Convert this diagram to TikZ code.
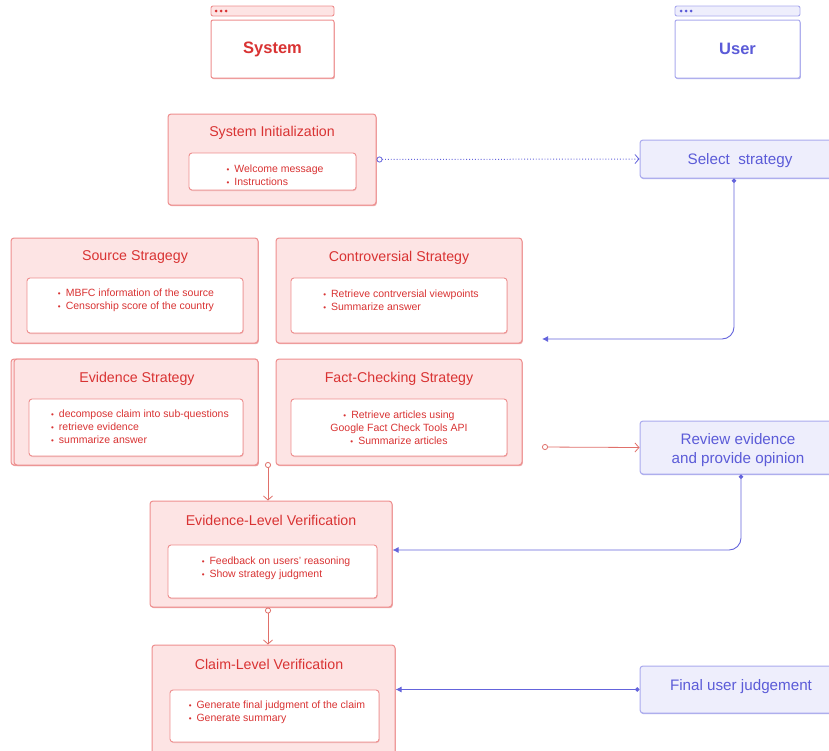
\documentclass[tikz,border=0pt]{standalone}
\usepackage{fontspec}
\setmainfont{Liberation Sans}
\usetikzlibrary{arrows.meta,shadows}
\definecolor{rtext}{HTML}{D93333}
\definecolor{rfill}{HTML}{FDE4E4}
\definecolor{rline}{HTML}{EE8E8E}
\definecolor{rshad}{HTML}{E89A9A}
\definecolor{btext}{HTML}{5B5BD8}
\definecolor{bfill}{HTML}{EEEEFC}
\definecolor{bline}{HTML}{AAAAEE}
\definecolor{bshad}{HTML}{9C9CE6}
\definecolor{bconn}{HTML}{6464DC}
\definecolor{rconn}{HTML}{E0706A}
\tikzset{
  outerbox/.style={draw=rline, fill=rfill, rounded corners=3pt, line width=1pt, inner sep=0pt,
     drop shadow={shadow xshift=0.8pt, shadow yshift=-1.2pt, fill=rshad, opacity=0.8}},
  innerbox/.style={draw=rline, fill=white, rounded corners=3pt, line width=0.9pt, inner sep=0pt,
     drop shadow={shadow xshift=0.6pt, shadow yshift=-1pt, fill=rshad, opacity=0.6}},
  userbox/.style={draw=bline, fill=bfill, rounded corners=3pt, line width=1pt, inner sep=0pt,
     drop shadow={shadow xshift=0.6pt, shadow yshift=-1.2pt, fill=bshad, opacity=0.8}},
  ttl/.style={text=rtext, font=\fontsize{14.2}{16}\selectfont, inner sep=0pt},
  items/.style={text=rtext, font=\fontsize{10.5}{13}\selectfont, align=left, inner sep=0pt},
  utext/.style={text=btext, font=\fontsize{15.2}{19}\selectfont, align=center, inner sep=0pt},
  rconnector/.style={draw=rconn, line width=0.8pt},
  bconnector/.style={draw=bconn, line width=0.9pt},
  ropen/.style={{Circle[open,length=6pt,width=6pt,line width=0.8pt]}-{Straight Barb[length=4pt,width=9pt,line width=0.8pt]}},
  bdot/.style={{Circle[length=4.5pt,width=4.5pt]}-{Latex[length=6pt,width=6pt]}},
}
\newcommand{\bul}{{\fontsize{8}{8}\selectfont •}\hspace{5pt}}
\begin{document}
\begin{tikzpicture}[x=1pt,y=-1pt]
\useasboundingbox (0,0) rectangle (829,750);
\fill[white] (0,0) rectangle (829,750);

% ---- header windows
\node[draw=rline, fill=rfill, rounded corners=2pt, line width=0.9pt, minimum width=123pt, minimum height=10pt, inner sep=0pt] (sysbar) at (272.5,11) {};
\foreach \dx in {0,5,10} \fill[rtext] (216+\dx,11) circle (1.5pt);
\node[draw=rline, fill=white, rounded corners=2pt, line width=1pt, minimum width=123pt, minimum height=58pt, inner sep=0pt,
   drop shadow={shadow xshift=0.8pt, shadow yshift=-1.2pt, fill=rshad, opacity=0.8},
   text=rtext, font=\fontsize{16.5}{18}\selectfont\bfseries] (sys) at (272.5,49) {System};

\node[draw=bline, fill=bfill, rounded corners=2pt, line width=0.9pt, minimum width=125pt, minimum height=10pt, inner sep=0pt] (usrbar) at (737.5,11) {};
\foreach \dx in {0,5,10} \fill[btext] (681+\dx,11) circle (1.5pt);
\node[draw=bline, fill=white, rounded corners=2pt, line width=1pt, minimum width=125pt, minimum height=58pt, inner sep=0pt,
   drop shadow={shadow xshift=0.8pt, shadow yshift=-1.2pt, fill=bshad, opacity=0.8},
   text=btext, font=\fontsize{16.5}{18}\selectfont\bfseries] (usr) at (737.5,49) {User};

% ---- System Initialization
\node[outerbox, minimum width=208pt, minimum height=91pt] (init) at (272,159.5) {};
\node[ttl] (initt) at (272,132.5) {System Initialization};
\node[innerbox, minimum width=167pt, minimum height=37pt] (initi) at (272.5,171.5) {};
\node[items] (initl) at (275,175) {\bul Welcome message\\\bul Instructions};

% ---- Source Stragegy
\node[outerbox, minimum width=247pt, minimum height=105pt] (src) at (134.5,290.5) {};
\node[ttl] (srct) at (135,257.5) {Source Stragegy};
\node[innerbox, minimum width=216pt, minimum height=55pt] (srci) at (135,305.5) {};
\node[items] (srcl) at (136,300) {\bul MBFC information of the source\\\bul Censorship score of the country};

% ---- Controversial Strategy
\node[outerbox, minimum width=246pt, minimum height=105pt] (con) at (399,290.5) {};
\node[ttl] (cont) at (399,257.5) {Controversial Strategy};
\node[innerbox, minimum width=216pt, minimum height=55pt] (coni) at (399,305.5) {};
\node[items] (conl) at (401,300) {\bul Retrieve contrversial viewpoints\\\bul Summarize answer};

% ---- Evidence Strategy (stacked)
\node[outerbox, minimum width=247pt, minimum height=106pt] (evsb) at (134.5,412) {};
\node[outerbox, minimum width=244pt, minimum height=106pt] (evs) at (136,412) {};
\node[ttl] (evst) at (137,378.5) {Evidence Strategy};
\node[innerbox, minimum width=214pt, minimum height=57pt] (evsi) at (136,427.5) {};
\node[items] (evsl) at (140,426.5) {\bul decompose claim into sub-questions\\\bul retrieve evidence\\\bul summarize answer};

% ---- Fact-Checking Strategy
\node[outerbox, minimum width=246pt, minimum height=106pt] (fcs) at (399,412) {};
\node[ttl] (fcst) at (399,378.5) {Fact-Checking Strategy};
\node[innerbox, minimum width=216pt, minimum height=57pt] (fcsi) at (399,427.5) {};
\node[items, align=center] (fcsl) at (399,427.5) {\bul Retrieve articles using\\Google Fact Check Tools API\\\bul Summarize articles};

% ---- Evidence-Level Verification
\node[outerbox, minimum width=242pt, minimum height=106pt] (evl) at (271,554) {};
\node[ttl] (evlt) at (271,520.5) {Evidence-Level Verification};
\node[innerbox, minimum width=209pt, minimum height=53pt] (evli) at (272.5,571.5) {};
\node[items] (evll) at (276,568) {\bul Feedback on users' reasoning\\\bul Show strategy judgment};

% ---- Claim-Level Verification
\node[outerbox, minimum width=243pt, minimum height=110pt] (clm) at (273.5,700) {};
\node[ttl] (clmt) at (269,664.5) {Claim-Level Verification};
\node[innerbox, minimum width=209pt, minimum height=52pt] (clmi) at (274.5,716) {};
\node[items] (clml) at (277,712) {\bul Generate final judgment of the claim\\\bul Generate summary};

% ---- user side
\node[userbox, minimum width=200pt, minimum height=38pt] (sel) at (740,159) {};
\node[utext] (selt) at (740,161) {Select\ \ strategy};
\node[userbox, minimum width=200pt, minimum height=53pt] (rev) at (740,447.5) {};
\node[utext] (revt) at (738,450.5) {Review evidence\\and provide opinion};
\node[userbox, minimum width=200pt, minimum height=47pt] (fin) at (740,689.5) {};
\node[utext] (fint) at (741,687) {Final user judgement};

% ---- connectors
\coordinate (selret) at (542,339);
\coordinate (fcout) at (542,447);
\coordinate (stratout) at (268,462);

\draw[bconnector, dotted, line width=1pt, {Circle[open,length=6pt,width=6pt,line width=0.8pt]}-{Straight Barb[length=4pt,width=9pt,line width=0.8pt]}]
  (init.east) -- (sel.west);
\draw[bconnector, rounded corners=12pt, bdot]
  ([xshift=-6pt]sel.south) |- (selret);
\draw[rconnector, ropen] (fcout) -- (rev.west);
\draw[rconnector, ropen] (stratout) -- (stratout |- evl.north);
\draw[rconnector, ropen] (evl.south -| stratout) -- (clm.north -| stratout);
\draw[bconnector, rounded corners=12pt, bdot]
  ([xshift=1pt]rev.south) |- ([yshift=4pt]evl.east);
\draw[bconnector, bdot] (fin.west) -- (fin.west -| clm.east);
\end{tikzpicture}
\end{document}
